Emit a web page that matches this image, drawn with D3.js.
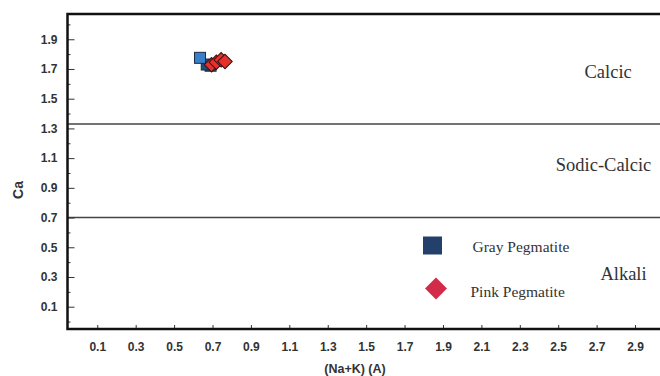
<!DOCTYPE html>
<html>
<head>
<meta charset="utf-8">
<script src="https://cdn.jsdelivr.net/npm/d3@7"></script>
<style>
  body { margin: 0; background: #fff; }
  svg { display: block; }
</style>
</head>
<body>
<svg width="660" height="376"></svg>
<script>
// values
let grayX = [0.635, 0.670, 0.690];
let grayY = [1.775, 1.730, 1.722];
let pinkX = [0.695, 0.720, 0.745, 0.765];
let pinkY = [1.728, 1.745, 1.762, 1.750];
let xTicks = [0.1, 0.3, 0.5, 0.7, 0.9, 1.1, 1.3, 1.5, 1.7, 1.9, 2.1, 2.3, 2.5, 2.7, 2.9];
let yTicks = [0.1, 0.3, 0.5, 0.7, 0.9, 1.1, 1.3, 1.5, 1.7, 1.9];
let yMinor = [0, 0.2, 0.4, 0.6, 0.8, 1.0, 1.2, 1.4, 1.6, 1.8, 2.0];
let boundaries = [1.33, 0.7];
let fields = [
  { name: 'Calcic', x: 2.76, y: 1.64 },
  { name: 'Sodic-Calcic', x: 2.736, y: 1.013 },
  { name: 'Alkali', x: 2.84, y: 0.28 }
];

let svg = d3.select('svg');
let x = d3.scaleLinear().domain([-0.055, 3.03]).range([67.5, 660]);
let y = d3.scaleLinear().domain([-0.05, 2.07]).range([329, 14]);

// boundary lines
svg.selectAll('.bound')
  .data(boundaries)
  .enter().append('line')
  .attr('x1', x.range()[0]).attr('x2', 660)
  .attr('y1', d => y(d)).attr('y2', d => y(d))
  .attr('stroke', '#444').attr('stroke-width', 1.4);

// axes
let xAxis = d3.axisBottom(x).tickValues(xTicks).tickSizeInner(-4).tickSizeOuter(0).tickPadding(13)
  .tickFormat(d3.format('.1f'));
let gx = svg.append('g').attr('transform', 'translate(0,329)').call(xAxis);
gx.select('.domain').remove();

let yAxis = d3.axisLeft(y).tickValues(yTicks).tickSizeInner(-7).tickSizeOuter(0).tickPadding(10)
  .tickFormat(d3.format('.1f'));
let gy = svg.append('g').attr('transform', 'translate(67.5,0)').call(yAxis);
gy.select('.domain').remove();

svg.append('g').attr('transform', 'translate(67.5,0)')
  .call(d3.axisLeft(y).tickValues(yMinor).tickSizeInner(-3).tickSizeOuter(0).tickFormat(''))
  .select('.domain').remove();

svg.selectAll('.tick line').attr('stroke', '#333').attr('stroke-width', 1);
svg.selectAll('.tick text')
  .attr('font-family', 'Liberation Sans, Arial, sans-serif')
  .attr('font-weight', 'bold')
  .attr('font-size', 12)
  .attr('fill', '#333');

// frame: top, left, bottom
svg.append('path')
  .attr('d', `M660,${y.range()[1]} H${x.range()[0]} V${y.range()[0]} H660`)
  .attr('fill', 'none').attr('stroke', '#111').attr('stroke-width', 2.5);

// axis titles
svg.append('text')
  .attr('transform', 'translate(22.5,190) rotate(-90)')
  .attr('text-anchor', 'middle')
  .attr('font-family', 'Liberation Sans, Arial, sans-serif')
  .attr('font-weight', 'bold').attr('font-size', 14).attr('fill', '#333')
  .text('Ca');

svg.append('text')
  .attr('x', 355).attr('y', 373)
  .attr('text-anchor', 'middle')
  .attr('font-family', 'Liberation Sans, Arial, sans-serif')
  .attr('font-weight', 'bold').attr('font-size', 12.5).attr('fill', '#333')
  .text('(Na+K) (A)');

// field names
svg.selectAll('.field')
  .data(fields)
  .enter().append('text')
  .attr('x', d => x(d.x)).attr('y', d => y(d.y))
  .attr('text-anchor', 'middle')
  .attr('font-family', 'Liberation Serif, Times New Roman, serif')
  .attr('font-size', 18.5).attr('fill', '#333')
  .text(d => d.name);

// data points
let gray = grayX.map((d, i) => ({ x: d, y: grayY[i] }));
let pink = pinkX.map((d, i) => ({ x: d, y: pinkY[i] }));

svg.selectAll('.gray')
  .data(gray.slice().reverse())
  .enter().append('rect')
  .attr('x', d => x(d.x) - 5.5).attr('y', d => y(d.y) - 5.5)
  .attr('width', 11).attr('height', 11)
  .attr('fill', (d, i) => i == gray.length - 1 ? '#3b7fca' : '#2a4a7a')
  .attr('stroke', '#1a2a40').attr('stroke-width', 1);

let diamond = d3.symbol().type(d3.symbolSquare).size(105);
svg.selectAll('.pink')
  .data(pink)
  .enter().append('path')
  .attr('d', diamond)
  .attr('transform', d => `translate(${x(d.x)},${y(d.y)}) rotate(45)`)
  .attr('fill', '#e5302c')
  .attr('stroke', '#3a1010').attr('stroke-width', 1);

// legend
svg.append('rect')
  .attr('x', 423).attr('y', 236.5).attr('width', 19).attr('height', 18)
  .attr('fill', '#22406a');
svg.append('path')
  .attr('d', d3.symbol().type(d3.symbolSquare).size(240))
  .attr('transform', 'translate(436,288.5) rotate(45)')
  .attr('fill', '#d42a4a');

svg.append('text')
  .attr('x', 472.5).attr('y', 252)
  .attr('font-family', 'Liberation Serif, Times New Roman, serif')
  .attr('font-size', 15.5).attr('fill', '#333')
  .text('Gray Pegmatite');
svg.append('text')
  .attr('x', 470.5).attr('y', 297)
  .attr('font-family', 'Liberation Serif, Times New Roman, serif')
  .attr('font-size', 15.5).attr('fill', '#333')
  .text('Pink Pegmatite');
</script>
</body>
</html>
